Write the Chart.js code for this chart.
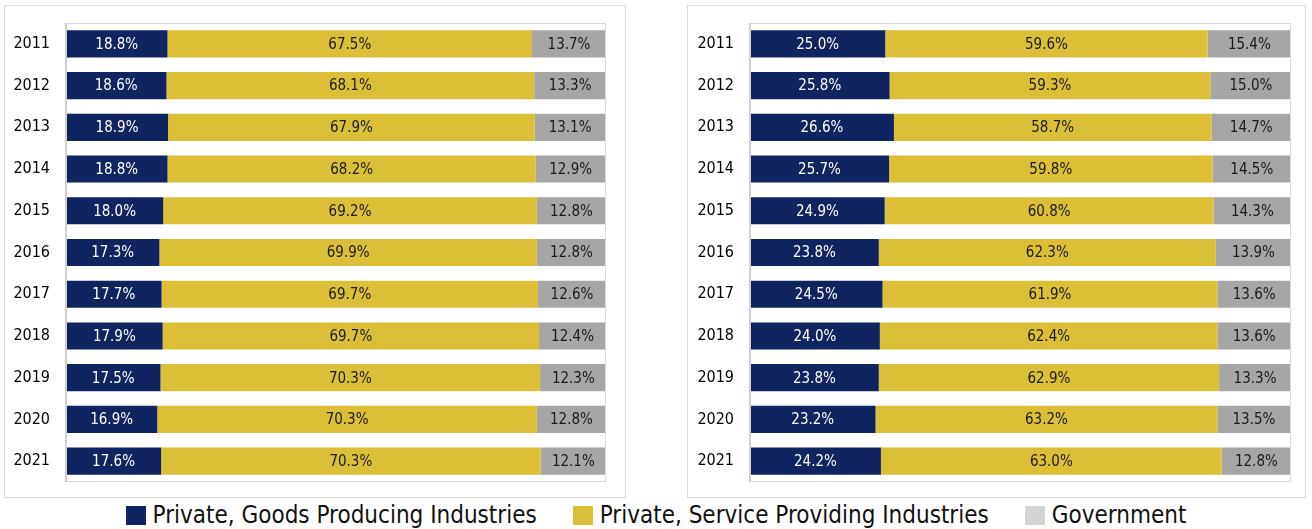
<!DOCTYPE html>
<html>
<head>
<meta charset="utf-8">
<script src="https://cdn.jsdelivr.net/npm/chart.js@4.4.1/dist/chart.umd.min.js"></script>
<style>
  body { margin: 0; background: #fff; width: 1312px; height: 529px; overflow: hidden; position: relative; font-family: "DejaVu Sans Condensed", "DejaVu Sans", sans-serif; }
  .panel { position: absolute; border: 1px solid #d9d9d9; box-sizing: border-box; }
  #legend { position: absolute; left: 0; top: 501px; width: 1312px; display: flex; justify-content: center; align-items: center; }
  .item { display: flex; align-items: center; font-size: 24px; color: #111; margin: 0 18px; }
  .box { width: 20px; height: 19px; margin-right: 7px; }
</style>
</head>
<body>
<div class="panel" style="left:4px;top:5px;width:622px;height:493px"><canvas id="c1"></canvas></div>
<div class="panel" style="left:687px;top:5px;width:619px;height:493px"><canvas id="c2"></canvas></div>
<div id="legend"></div>
<script>
let anys = ["2011", "2012", "2013", "2014", "2015", "2016", "2017", "2018", "2019", "2020", "2021"];
let series = ["Private, Goods Producing Industries", "Private, Service Providing Industries", "Government"];
let colors = ["#0f2461", "#dbbf36", "#a6a6a6"];
let legendColors = ["#0f2461", "#dbbf36", "#d4d4d4"];
let textColors = ["#ffffff", "#1a1a1a", "#1a1a1a"];

// left chart
let goods1 = [18.8, 18.6, 18.9, 18.8, 18.0, 17.3, 17.7, 17.9, 17.5, 16.9, 17.6];
let service1 = [67.5, 68.1, 67.9, 68.2, 69.2, 69.9, 69.7, 69.7, 70.3, 70.3, 70.3];
let gov1 = [13.7, 13.3, 13.1, 12.9, 12.8, 12.8, 12.6, 12.4, 12.3, 12.8, 12.1];

// right chart
let goods2 = [25.0, 25.8, 26.6, 25.7, 24.9, 23.8, 24.5, 24.0, 23.8, 23.2, 24.2];
let service2 = [59.6, 59.3, 58.7, 59.8, 60.8, 62.3, 61.9, 62.4, 62.9, 63.2, 63.0];
let gov2 = [15.4, 15.0, 14.7, 14.5, 14.3, 13.9, 13.6, 13.6, 13.3, 13.5, 12.8];

let fontName = "'DejaVu Sans Condensed', 'DejaVu Sans', sans-serif";

let etiquetes = {
    id: "etiquetes",
    afterDatasetsDraw(chart) {
        let ctx = chart.ctx;
        ctx.save();
        ctx.font = "15px " + fontName;
        ctx.textAlign = "center";
        ctx.textBaseline = "middle";
        chart.data.datasets.forEach(function (ds, d) {
            let meta = chart.getDatasetMeta(d);
            meta.data.forEach(function (bar, i) {
                let p = bar.getProps(["x", "y", "base"], true);
                ctx.fillStyle = textColors[d];
                ctx.fillText(ds.data[i].toFixed(1) + "%", (p.x + p.base) / 2, p.y + 1);
            });
        });
        ctx.restore();
    }
};

let marc = {
    id: "marc",
    afterDraw(chart) {
        let a = chart.chartArea;
        let ctx = chart.ctx;
        ctx.save();
        ctx.strokeStyle = "#d9d9d9";
        ctx.lineWidth = 1;
        ctx.strokeRect(a.left + 0.5, a.top + 0.5, a.right - a.left - 1, a.bottom - a.top - 1);
        ctx.fillStyle = "#d0d0d0";
        ctx.fillRect(a.left - 1, a.top, 2, a.bottom - a.top);
        ctx.restore();
    }
};

function ferGrafic(id, dades, amplada, pad) {
    return new Chart(document.getElementById(id), {
        type: "bar",
        data: {
            labels: anys,
            datasets: dades.map(function (vals, d) {
                return {
                    label: series[d],
                    data: vals,
                    backgroundColor: colors[d],
                    borderWidth: 0,
                    barPercentage: 0.65,
                    categoryPercentage: 1
                };
            })
        },
        options: {
            indexAxis: "y",
            responsive: true,
            maintainAspectRatio: false,
            animation: false,
            layout: { padding: pad },
            plugins: { legend: { display: false }, tooltip: { enabled: false } },
            scales: {
                x: { stacked: true, min: 0, max: 100, display: false },
                y: {
                    stacked: true,
                    // tick marks hidden, only used to push the labels away from the bars
                    grid: { display: true, drawOnChartArea: false, drawTicks: true, tickLength: 16, color: "rgba(0,0,0,0)" },
                    border: { display: false },
                    ticks: { color: "#000", font: { family: fontName, size: 16 }, padding: 0 },
                    afterFit(scale) { scale.width = amplada; }
                }
            }
        },
        plugins: [etiquetes, marc]
    });
}

ferGrafic("c1", [goods1, service1, gov1], 61, { left: 0, right: 19, top: 17, bottom: 15 });
ferGrafic("c2", [goods2, service2, gov2], 62, { left: 0, right: 14, top: 17, bottom: 15 });

let legend = document.getElementById("legend");
series.forEach(function (nom, d) {
    let item = document.createElement("div");
    item.className = "item";
    let box = document.createElement("div");
    box.className = "box";
    box.style.background = legendColors[d];
    let txt = document.createElement("span");
    txt.textContent = nom;
    item.appendChild(box);
    item.appendChild(txt);
    legend.appendChild(item);
});
</script>
</body>
</html>
